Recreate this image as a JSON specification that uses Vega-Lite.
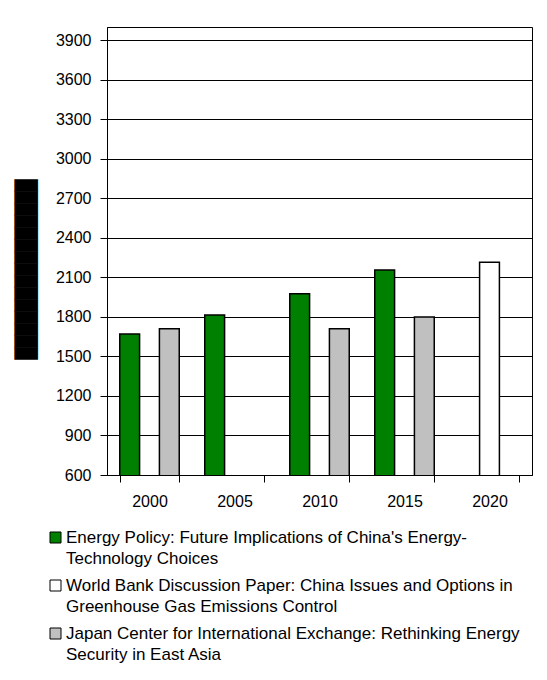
{
  "$schema": "https://vega.github.io/schema/vega-lite/v6.json",
  "width": 425,
  "height": 448,
  "autosize": {"type": "none"},
  "padding": {"left": 107, "top": 27, "right": 15, "bottom": 205},
  "background": "white",
  "config": {
    "font": "Liberation Sans",
    "view": {"stroke": "black", "strokeWidth": 1},
    "style": {"guide-label": {"lineHeight": 21}}
  },
  "data": {
    "values": [
      {"year": "2000", "source": "Energy Policy: Future Implications of China's Energy-|Technology Choices", "value": 1670},
      {"year": "2000", "source": "Japan Center for International Exchange: Rethinking Energy|Security in East Asia", "value": 1710},
      {"year": "2005", "source": "Energy Policy: Future Implications of China's Energy-|Technology Choices", "value": 1815},
      {"year": "2010", "source": "Energy Policy: Future Implications of China's Energy-|Technology Choices", "value": 1975},
      {"year": "2010", "source": "Japan Center for International Exchange: Rethinking Energy|Security in East Asia", "value": 1710},
      {"year": "2015", "source": "Energy Policy: Future Implications of China's Energy-|Technology Choices", "value": 2155},
      {"year": "2015", "source": "Japan Center for International Exchange: Rethinking Energy|Security in East Asia", "value": 1800},
      {"year": "2020", "source": "World Bank Discussion Paper: China Issues and Options in|Greenhouse Gas Emissions Control", "value": 2215}
    ]
  },
  "mark": {"type": "bar", "stroke": "black", "strokeWidth": 1.5, "clip": true},
  "encoding": {
    "x": {
      "field": "year",
      "type": "ordinal",
      "scale": {"paddingInner": 0.3, "paddingOuter": 0.15},
      "axis": {
        "title": null,
        "labelAngle": 0,
        "tickBand": "extent",
        "tickSize": 7,
        "tickColor": "black",
        "domainColor": "black",
        "labelFontSize": 16,
        "labelColor": "black",
        "labelPadding": 11
      }
    },
    "xOffset": {
      "field": "source",
      "type": "nominal",
      "scale": {
        "domain": [
          "Energy Policy: Future Implications of China's Energy-|Technology Choices",
          "World Bank Discussion Paper: China Issues and Options in|Greenhouse Gas Emissions Control",
          "Japan Center for International Exchange: Rethinking Energy|Security in East Asia"
        ],
        "paddingInner": 0
      }
    },
    "y": {
      "field": "value",
      "type": "quantitative",
      "scale": {"domain": [600, 4000], "nice": false, "zero": false},
      "axis": {
        "values": [600, 900, 1200, 1500, 1800, 2100, 2400, 2700, 3000, 3300, 3600, 3900],
        "format": "d",
        "grid": true,
        "gridColor": "black",
        "gridOpacity": 1,
        "gridWidth": 1,
        "domainColor": "black",
        "tickColor": "black",
        "tickSize": 7,
        "labelFontSize": 16,
        "labelColor": "black",
        "labelPadding": 9,
        "title": "███████████████",
        "titleFont": "DejaVu Sans Mono",
        "titleFontSize": 19.932,
        "titleFontWeight": "normal",
        "titleColor": "black",
        "titleX": -81,
        "titleY": 242,
        "titleAlign": "center",
        "titleBaseline": "middle",
        "titleAngle": -90
      }
    },
    "color": {
      "field": "source",
      "type": "nominal",
      "scale": {
        "domain": [
          "Energy Policy: Future Implications of China's Energy-|Technology Choices",
          "World Bank Discussion Paper: China Issues and Options in|Greenhouse Gas Emissions Control",
          "Japan Center for International Exchange: Rethinking Energy|Security in East Asia"
        ],
        "range": ["#008000", "#FFFFFF", "#C0C0C0"]
      },
      "legend": {
        "title": null,
        "orient": "none",
        "legendX": -60,
        "legendY": 502,
        "direction": "vertical",
        "padding": 0,
        "symbolType": "square",
        "symbolSize": 121,
        "symbolStrokeColor": "black",
        "symbolStrokeWidth": 1,
        "labelFontSize": 17,
        "labelColor": "black",
        "labelOffset": 2,
        "labelLimit": 600,
        "labelExpr": "split(datum.label, '|')",
        "rowPadding": 9
      }
    }
  }
}
